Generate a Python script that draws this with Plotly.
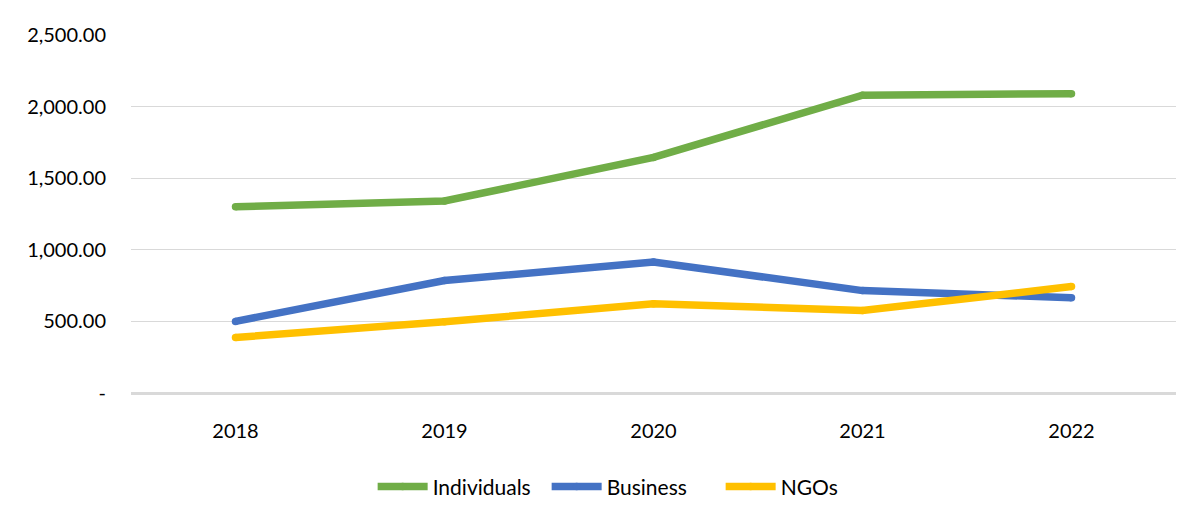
import plotly.graph_objects as go

years = ["2018", "2019", "2020", "2021", "2022"]
individuals = [1301, 1341, 1645, 2080, 2090]
business = [500, 785, 915, 715, 665]
ngos = [388, 497, 623, 576, 743]

y_tickvals = [0, 500, 1000, 1500, 2000, 2500]
y_ticktext = ["-", "500.00", "1,000.00", "1,500.00", "2,000.00", "2,500.00"]

series = [
    ("Individuals", individuals, "#70ad47"),
    ("Business", business, "#4472c4"),
    ("NGOs", ngos, "#ffc000"),
]

fig = go.Figure()
for name, vals, color in series:
    fig.add_trace(go.Scatter(
        x=years, y=vals, name=name, mode="lines+markers",
        line=dict(color=color, width=7.5, shape="linear"),
        marker=dict(color=color, size=7.5, line=dict(width=0)),
    ))

fig.update_layout(
    width=1177, height=513,
    margin=dict(l=131, r=1, t=35, b=120, autoexpand=False),
    paper_bgcolor="white", plot_bgcolor="white",
    font=dict(family="Lato, 'Open Sans', sans-serif", size=20, color="#000000"),
    showlegend=True,
    legend=dict(orientation="h", x=0.481, xanchor="center", y=-0.205, yanchor="top",
                font=dict(size=21), itemwidth=50, tracegroupgap=0,
                entrywidth=109, entrywidthmode="pixels"),
    xaxis=dict(type="category", range=[-0.5, 4.5], showgrid=False, zeroline=False,
               showline=False, automargin=False,
               ticks="", ticklabelstandoff=24, tickfont=dict(size=20)),
    yaxis=dict(range=[0, 2500], tickvals=y_tickvals, ticktext=y_ticktext, automargin=False,
               showgrid=True, gridcolor="#d9d9d9", gridwidth=1.2,
               zeroline=True, zerolinecolor="#d9d9d9", zerolinewidth=2.5,
               showline=False, ticks="", ticklabelstandoff=24, tickfont=dict(size=20)),
)

fig.write_html("out.html", config={"displayModeBar": False},
               post_script="document.body.style.margin='0';")
